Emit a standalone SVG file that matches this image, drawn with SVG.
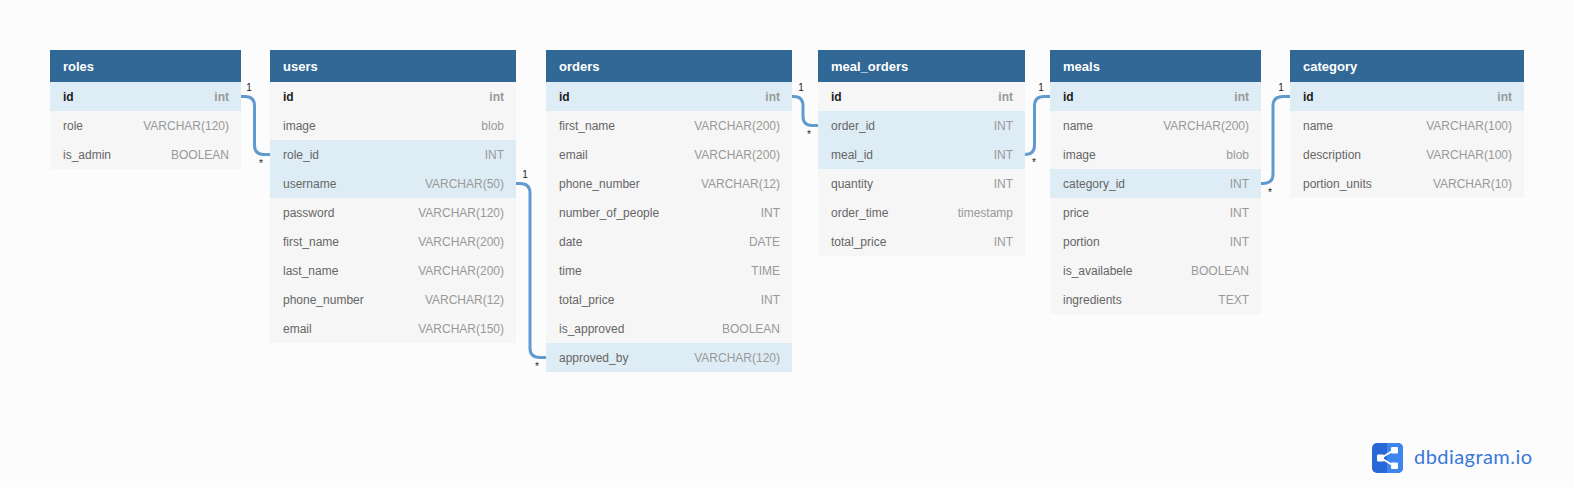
<svg xmlns="http://www.w3.org/2000/svg" width="1574" height="487" viewBox="0 0 1574 487">
<style>
text{font-family:"Liberation Sans",Arial,sans-serif}
.h{fill:#316896}.b{fill:#f6f6f6}.s{fill:#deedf5}
.t{font-size:13px;font-weight:700;fill:#fff}
.n{font-size:12px;fill:#666}
.k{font-size:12px;font-weight:700;fill:#1f1f1f}
.y{font-size:12px;fill:#999;text-anchor:end}
.yk{font-size:12px;font-weight:700;fill:#999;text-anchor:end}
.c{fill:none;stroke:#609bcf;stroke-width:3}
.m{font-size:10px;fill:#222;text-anchor:middle}
</style>
<rect width="1574" height="487" fill="#fcfcfc"/>
<g id="roles">
<rect class="b" x="50" y="82" width="191" height="87"/><rect class="h" x="50" y="50" width="191" height="32"/><rect class="s" x="50" y="82" width="191" height="29"/>
<text class="t" x="63" y="71">roles</text>
<text class="k" x="63" y="100.500">id</text><text class="yk" x="229" y="100.500">int</text>
<text class="n" x="63" y="129.500">role</text><text class="y" x="229" y="129.500">VARCHAR(120)</text>
<text class="n" x="63" y="158.500">is_admin</text><text class="y" x="229" y="158.500">BOOLEAN</text>
</g>
<g id="users">
<rect class="b" x="270" y="82" width="246" height="261"/><rect class="h" x="270" y="50" width="246" height="32"/><rect class="s" x="270" y="140" width="246" height="58"/>
<text class="t" x="283" y="71">users</text>
<text class="k" x="283" y="100.500">id</text><text class="yk" x="504" y="100.500">int</text>
<text class="n" x="283" y="129.500">image</text><text class="y" x="504" y="129.500">blob</text>
<text class="n" x="283" y="158.500">role_id</text><text class="y" x="504" y="158.500">INT</text>
<text class="n" x="283" y="187.500">username</text><text class="y" x="504" y="187.500">VARCHAR(50)</text>
<text class="n" x="283" y="216.500">password</text><text class="y" x="504" y="216.500">VARCHAR(120)</text>
<text class="n" x="283" y="245.500">first_name</text><text class="y" x="504" y="245.500">VARCHAR(200)</text>
<text class="n" x="283" y="274.500">last_name</text><text class="y" x="504" y="274.500">VARCHAR(200)</text>
<text class="n" x="283" y="303.500">phone_number</text><text class="y" x="504" y="303.500">VARCHAR(12)</text>
<text class="n" x="283" y="332.500">email</text><text class="y" x="504" y="332.500">VARCHAR(150)</text>
</g>
<g id="orders">
<rect class="b" x="546" y="82" width="246" height="290"/><rect class="h" x="546" y="50" width="246" height="32"/><rect class="s" x="546" y="82" width="246" height="29"/><rect class="s" x="546" y="343" width="246" height="29"/>
<text class="t" x="559" y="71">orders</text>
<text class="k" x="559" y="100.500">id</text><text class="yk" x="780" y="100.500">int</text>
<text class="n" x="559" y="129.500">first_name</text><text class="y" x="780" y="129.500">VARCHAR(200)</text>
<text class="n" x="559" y="158.500">email</text><text class="y" x="780" y="158.500">VARCHAR(200)</text>
<text class="n" x="559" y="187.500">phone_number</text><text class="y" x="780" y="187.500">VARCHAR(12)</text>
<text class="n" x="559" y="216.500">number_of_people</text><text class="y" x="780" y="216.500">INT</text>
<text class="n" x="559" y="245.500">date</text><text class="y" x="780" y="245.500">DATE</text>
<text class="n" x="559" y="274.500">time</text><text class="y" x="780" y="274.500">TIME</text>
<text class="n" x="559" y="303.500">total_price</text><text class="y" x="780" y="303.500">INT</text>
<text class="n" x="559" y="332.500">is_approved</text><text class="y" x="780" y="332.500">BOOLEAN</text>
<text class="n" x="559" y="361.500">approved_by</text><text class="y" x="780" y="361.500">VARCHAR(120)</text>
</g>
<g id="meal_orders">
<rect class="b" x="818" y="82" width="207" height="174"/><rect class="h" x="818" y="50" width="207" height="32"/><rect class="s" x="818" y="111" width="207" height="58"/>
<text class="t" x="831" y="71">meal_orders</text>
<text class="k" x="831" y="100.500">id</text><text class="yk" x="1013" y="100.500">int</text>
<text class="n" x="831" y="129.500">order_id</text><text class="y" x="1013" y="129.500">INT</text>
<text class="n" x="831" y="158.500">meal_id</text><text class="y" x="1013" y="158.500">INT</text>
<text class="n" x="831" y="187.500">quantity</text><text class="y" x="1013" y="187.500">INT</text>
<text class="n" x="831" y="216.500">order_time</text><text class="y" x="1013" y="216.500">timestamp</text>
<text class="n" x="831" y="245.500">total_price</text><text class="y" x="1013" y="245.500">INT</text>
</g>
<g id="meals">
<rect class="b" x="1050" y="82" width="211" height="232"/><rect class="h" x="1050" y="50" width="211" height="32"/><rect class="s" x="1050" y="82" width="211" height="29"/><rect class="s" x="1050" y="169" width="211" height="29"/>
<text class="t" x="1063" y="71">meals</text>
<text class="k" x="1063" y="100.500">id</text><text class="yk" x="1249" y="100.500">int</text>
<text class="n" x="1063" y="129.500">name</text><text class="y" x="1249" y="129.500">VARCHAR(200)</text>
<text class="n" x="1063" y="158.500">image</text><text class="y" x="1249" y="158.500">blob</text>
<text class="n" x="1063" y="187.500">category_id</text><text class="y" x="1249" y="187.500">INT</text>
<text class="n" x="1063" y="216.500">price</text><text class="y" x="1249" y="216.500">INT</text>
<text class="n" x="1063" y="245.500">portion</text><text class="y" x="1249" y="245.500">INT</text>
<text class="n" x="1063" y="274.500">is_availabele</text><text class="y" x="1249" y="274.500">BOOLEAN</text>
<text class="n" x="1063" y="303.500">ingredients</text><text class="y" x="1249" y="303.500">TEXT</text>
</g>
<g id="category">
<rect class="b" x="1290" y="82" width="234" height="116"/><rect class="h" x="1290" y="50" width="234" height="32"/><rect class="s" x="1290" y="82" width="234" height="29"/>
<text class="t" x="1303" y="71">category</text>
<text class="k" x="1303" y="100.500">id</text><text class="yk" x="1512" y="100.500">int</text>
<text class="n" x="1303" y="129.500">name</text><text class="y" x="1512" y="129.500">VARCHAR(100)</text>
<text class="n" x="1303" y="158.500">description</text><text class="y" x="1512" y="158.500">VARCHAR(100)</text>
<text class="n" x="1303" y="187.500">portion_units</text><text class="y" x="1512" y="187.500">VARCHAR(10)</text>
</g>
<g id="connectors">
<path class="c" d="M241 96.500H245Q254.500 96.500 254.500 106V145Q254.500 154.500 264 154.500H270"/>
<path class="c" d="M516 183.500H520Q530 183.500 530 193V348Q530 357.500 540 357.500H546"/>
<path class="c" d="M792 96.500H794Q803 96.500 803 106V116Q803 125.500 812 125.500H818"/>
<path class="c" d="M1025 154.500H1025Q1034.500 154.500 1034.500 145V106Q1034.500 96.500 1044 96.500H1050"/>
<path class="c" d="M1261 183.500H1263Q1273 183.500 1273 174V106Q1273 96.500 1283 96.500H1290"/>
<g>
<text class="m" x="249" y="91">1</text><text class="m" x="261" y="167">*</text>
<text class="m" x="525" y="178">1</text><text class="m" x="537" y="369.500">*</text>
<text class="m" x="801" y="91">1</text><text class="m" x="809" y="138">*</text>
<text class="m" x="1041" y="91">1</text><text class="m" x="1034" y="166">*</text>
<text class="m" x="1281" y="91">1</text><text class="m" x="1270" y="196">*</text>
</g>
</g>
<g id="logo">
<rect x="1372" y="443" width="31" height="30" rx="5" fill="#2a67d6"/>
<path d="M1387 443h11a5 5 0 0 1 5 5v20a5 5 0 0 1-5 5h-11z" fill="#3d86ee"/>
<path d="M1381 458L1394 450M1381 458L1394 466" stroke="#fff" stroke-width="2" fill="none"/>
<rect x="1377" y="454.500" width="7" height="7" rx="1" fill="#fff"/><rect x="1391" y="447" width="7" height="6.500" rx="1" fill="#fff"/><rect x="1391" y="462.500" width="7" height="6.500" rx="1" fill="#fff"/>
<text x="1414" y="463.500" font-size="20" fill="#3a78d8" textLength="118" lengthAdjust="spacing" style="font-family:Lato,Roboto,sans-serif">dbdiagram.io</text>
</g>
</svg>
